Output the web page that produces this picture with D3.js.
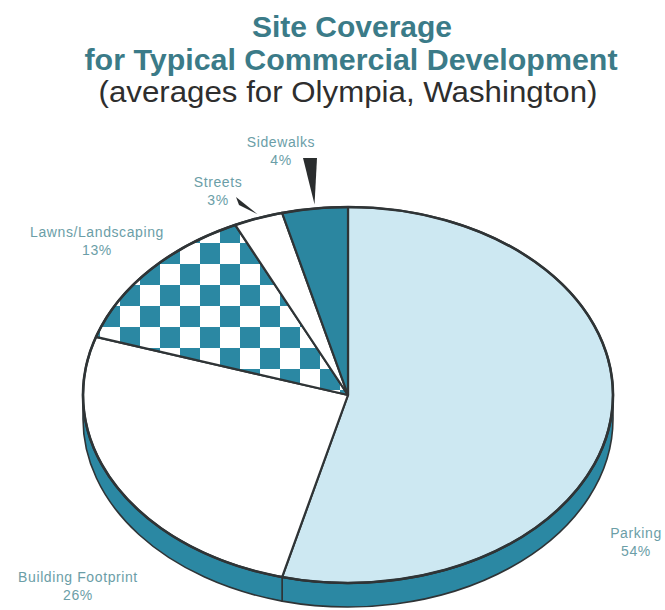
<!DOCTYPE html>
<html>
<head>
<meta charset="utf-8">
<script src="https://cdn.jsdelivr.net/npm/d3@7"></script>
<style>
  body { margin:0; background:#fff; }
  svg { display:block; }
  .title { font-family:"Liberation Sans", Arial, sans-serif; text-anchor:middle; }
  .lbl { font-family:"Liberation Sans", Arial, sans-serif; font-size:14px; fill:#6b9ea7; text-anchor:middle; letter-spacing:0.6px; }
</style>
</head>
<body>
<div id="chart"></div>
<script>

// data
var categories = ["Parking", "Building Footprint", "Lawns/Landscaping", "Streets", "Sidewalks"];
var shares = [54, 26, 13, 3, 4];
var titleLines = ["Site Coverage", "for Typical Commercial Development", "(averages for Olympia, Washington)"];

// look of each slice
var fills = {
	"Parking": "#cde8f2",
	"Building Footprint": "#ffffff",
	"Lawns/Landscaping": "url(#checks)",
	"Streets": "#ffffff",
	"Sidewalks": "#2b86a0"
};

// label anchors (x centre, baseline of first line)
var labelPos = {
	"Parking": [636, 538],
	"Building Footprint": [78, 582],
	"Lawns/Landscaping": [97, 237],
	"Streets": [218, 187],
	"Sidewalks": [281, 147]
};
// pointer wedge bases for the thin slices
var pointerBase = {
	"Streets": [[236, 197], [239, 205]],
	"Sidewalks": [[303, 158], [317, 158]]
};

var width = 665, height = 610;
var cx = 348, cy = 395, rx = 265, ry = 188, depth = 24;
var teal = "#2b88a3", edge = "#2f3436";

var svg = d3.select("#chart").append("svg")
	.attr("width", width)
	.attr("height", height);

var defs = svg.append("defs");
var pat = defs.append("pattern").attr("id", "checks")
	.attr("patternUnits", "userSpaceOnUse")
	.attr("x", 200).attr("y", 243)
	.attr("width", 40).attr("height", 42);
pat.append("rect").attr("width", 40).attr("height", 42).attr("fill", "#fff");
pat.append("rect").attr("width", 20).attr("height", 21).attr("fill", teal);
pat.append("rect").attr("x", 20).attr("y", 21).attr("width", 20).attr("height", 21).attr("fill", teal);

// titles
var tSizes = [30, 30, 29], tWeights = ["bold", "bold", "normal"];
var tColors = ["#3b7b88", "#3b7b88", "#2e2e2e"];
var tBase = [37, 70, 102], tLen = [200, 533, 499], tX = [352, 351, 348];
svg.selectAll("text.title").data(titleLines).enter().append("text")
	.attr("class", "title")
	.attr("x", function(d, i) { return tX[i]; })
	.attr("y", function(d, i) { return tBase[i]; })
	.attr("textLength", function(d, i) { return tLen[i]; })
	.attr("lengthAdjust", "spacingAndGlyphs")
	.style("font-size", function(d, i) { return tSizes[i] + "px"; })
	.style("font-weight", function(d, i) { return tWeights[i]; })
	.style("fill", function(d, i) { return tColors[i]; })
	.text(function(d) { return d; });

// pie angles
var rows = categories.map(function(c, i) { return { name: c, v: shares[i] }; });
var pie = d3.pie().sort(null).value(function(d) { return d.v; });
var arcs = pie(rows);

function pt(a, dy) {
	return [cx + rx * Math.sin(a), cy - ry * Math.cos(a) + (dy || 0)];
}

function slicePath(d) {
	var p0 = pt(d.startAngle), p1 = pt(d.endAngle);
	var large = (d.endAngle - d.startAngle) > Math.PI ? 1 : 0;
	return "M" + cx + "," + cy + "L" + p0 + "A" + rx + "," + ry + " 0 " + large + " 1 " + p1 + "Z";
}

function rimPath(d) {
	var b0 = Math.max(d.startAngle, Math.PI / 2), b1 = Math.min(d.endAngle, 3 * Math.PI / 2);
	if (b1 <= b0) return null;
	var p0 = pt(b0), p1 = pt(b1), q0 = pt(b0, depth), q1 = pt(b1, depth);
	return "M" + p0 + "A" + rx + "," + ry + " 0 0 1 " + p1 + "L" + q1 +
		"A" + rx + "," + ry + " 0 0 0 " + q0 + "Z";
}

// side band first
svg.append("g").selectAll("path").data(arcs.filter(function(d) { return rimPath(d); }))
	.enter().append("path")
	.attr("d", rimPath)
	.attr("fill", teal)
	.attr("stroke", edge)
	.attr("stroke-width", 1.6)
	.attr("stroke-linejoin", "round");

// top face
svg.append("g").selectAll("path").data(arcs).enter().append("path")
	.attr("d", slicePath)
	.attr("fill", function(d) { return fills[d.data.name]; })
	.attr("stroke", edge)
	.attr("stroke-width", 2.2)
	.attr("stroke-linejoin", "round");

// outer rim outline
svg.append("ellipse")
	.attr("cx", cx).attr("cy", cy).attr("rx", rx).attr("ry", ry)
	.attr("fill", "none").attr("stroke", edge).attr("stroke-width", 2.6);

// pointer wedges
var wedge = d3.line();
svg.append("g").selectAll("path")
	.data(arcs.filter(function(d) { return pointerBase[d.data.name]; }))
	.enter().append("path")
	.attr("d", function(d) {
		var b = pointerBase[d.data.name];
		var m = (d.startAngle + d.endAngle) / 2;
		var tip = [cx + (rx + 2) * Math.sin(m), cy - (ry + 4) * Math.cos(m)];
		return wedge([b[0], b[1], tip]) + "Z";
	})
	.attr("fill", "#2a2d2e");

// labels
var lbl = svg.append("g").selectAll("text").data(arcs).enter().append("text")
	.attr("class", "lbl")
	.attr("x", function(d) { return labelPos[d.data.name][0]; })
	.attr("y", function(d) { return labelPos[d.data.name][1]; });
lbl.append("tspan").text(function(d) { return d.data.name; });
lbl.append("tspan")
	.attr("x", function(d) { return labelPos[d.data.name][0]; })
	.attr("dy", 18)
	.text(function(d) { return d.data.v + "%"; });

</script>
</body>
</html>
